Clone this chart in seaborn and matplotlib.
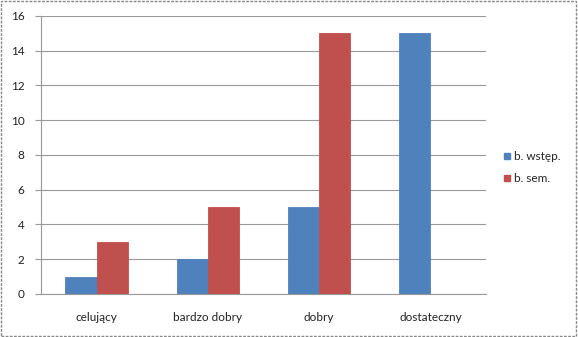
import matplotlib
matplotlib.use("Agg")
import matplotlib.pyplot as plt
import seaborn as sns
import pandas as pd
import numpy as np
from matplotlib.patches import Rectangle
from matplotlib.lines import Line2D

categories = ["celujący", "bardzo dobry", "dobry", "dostateczny"]
series_names = ["b. wstęp.", "b. sem."]
wstep = [1, 2, 5, 15]
sem = [3, 5, 15, 0]
y_ticks = [0, 2, 4, 6, 8, 10, 12, 14, 16]

df = pd.DataFrame({
    "kategoria": categories * 2,
    "seria": [series_names[0]] * 4 + [series_names[1]] * 4,
    "wartosc": wstep + sem,
})

sns.set_style("white")
plt.rcParams["font.family"] = ["Lato", "DejaVu Sans"]

fig = plt.figure(figsize=(5.78, 3.37), dpi=100)
ax = fig.add_axes([0.0709, 0.1276, 0.770, 0.825])

colors = ["#4F81BD", "#C0504D"]
sns.barplot(data=df, x="kategoria", y="wartosc", hue="seria", palette=colors,
            ax=ax, width=0.56, saturation=1, legend=False, zorder=3)
for p in ax.patches:
    p.set_edgecolor(p.get_facecolor())
    p.set_linewidth(0.6)

ax.set_ylim(0, 16)
ax.set_xlim(-0.5, 3.5)
ax.set_yticks(y_ticks)
ax.set_yticklabels([str(v) for v in y_ticks], fontsize=8.5, color="#222222")
ax.set_xticks(range(4))
ax.set_xticklabels(categories, fontsize=8.5, color="#222222")
ax.set_xticks(np.arange(-0.5, 4.0, 1.0), minor=True)
ax.tick_params(axis="x", which="major", length=0, pad=13)
ax.tick_params(axis="x", which="minor", length=4, color="#999999", direction="out")
ax.tick_params(axis="y", length=4, color="#999999", direction="out", pad=8, left=True)
ax.set_xlabel("")
ax.set_ylabel("")
ax.yaxis.grid(True, color="#999999", linewidth=0.8, zorder=0)
ax.set_axisbelow(True)
for s in ["top", "right"]:
    ax.spines[s].set_visible(False)
for s in ["left", "bottom"]:
    ax.spines[s].set_color("#999999")
    ax.spines[s].set_linewidth(0.8)

handles = [Line2D([0], [0], marker="s", linestyle="", markersize=5,
                  markerfacecolor=c, markeredgecolor=c) for c in colors]
fig.legend(handles, series_names, loc="upper left", bbox_to_anchor=(0.848, 0.582),
           frameon=False, fontsize=8.5, handletextpad=0.1, labelspacing=0.9,
           handlelength=1.0)

fig.patches.append(Rectangle((0.002, 0.003), 0.995, 0.994, transform=fig.transFigure,
                             fill=False, edgecolor="#888888", linewidth=1.0,
                             linestyle=(0, (2, 1))))

fig.savefig("out.png", dpi=100)
